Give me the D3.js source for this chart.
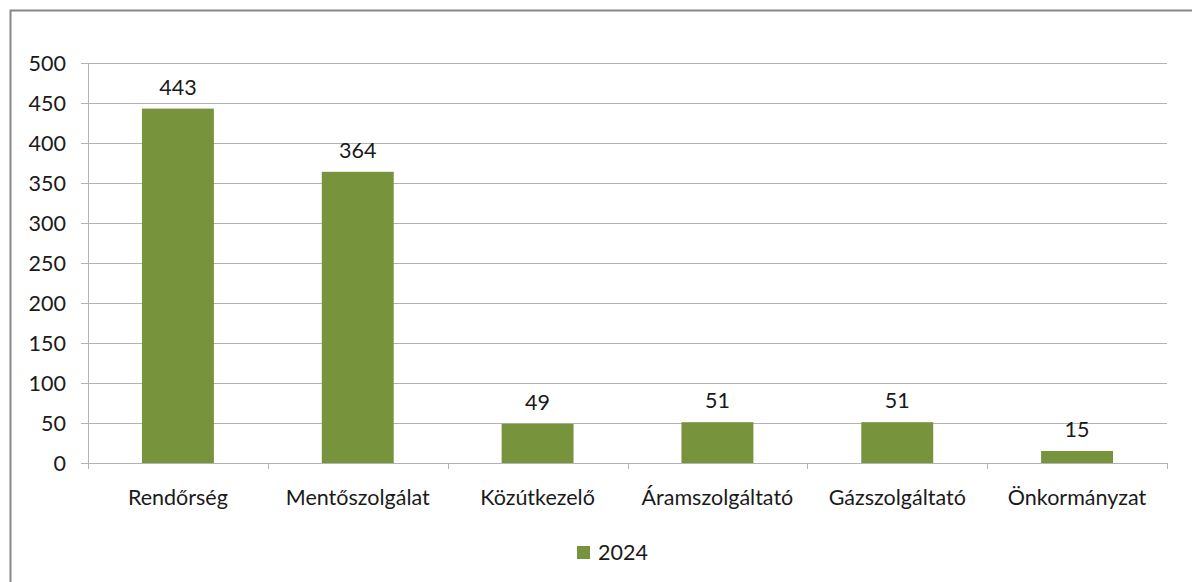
<!DOCTYPE html>
<html>
<head>
<meta charset="utf-8">
<script src="https://cdn.jsdelivr.net/npm/d3@7"></script>
<style>
  html, body { margin: 0; padding: 0; background: #fff; }
  svg { display: block; font-family: Lato, "Open Sans", sans-serif; }
</style>
</head>
<body>
<svg id="chart"></svg>
<script>
const categories = ["Rendőrség", "Mentőszolgálat", "Közútkezelő", "Áramszolgáltató", "Gázszolgáltató", "Önkormányzat"];
const values2024 = [443, 364, 49, 51, 51, 15];
const yTicks = [0, 50, 100, 150, 200, 250, 300, 350, 400, 450, 500];
const seriesName = "2024";

const width = 1192;
const height = 582;
const margin = { top: 63, right: 25, bottom: 119, left: 88 };
const barColor = "#77933c";
const fontSize = 21.5;

const svg = d3.select("#chart").attr("width", width).attr("height", height);

// outer frame (runs off right and bottom edges)
svg.append("rect")
    .attr("x", 10.5).attr("y", 10.5)
    .attr("width", width + 20).attr("height", height + 20)
    .attr("fill", "none").attr("stroke", "#878787").attr("stroke-width", 2);

const x = d3.scaleBand()
    .domain(categories)
    .range([margin.left, width - margin.right])
    .paddingInner(0).paddingOuter(0);

const y = d3.scaleLinear()
    .domain([0, 500])
    .range([height - margin.bottom, margin.top]);

// gridlines + y ticks
svg.append("g")
    .selectAll("line")
    .data(yTicks)
    .join("line")
    .attr("x1", margin.left - 7)
    .attr("x2", width - margin.right)
    .attr("y1", (d) => Math.round(y(d)) + 0.5)
    .attr("y2", (d) => Math.round(y(d)) + 0.5)
    .attr("stroke", "#b3b3b3")
    .attr("stroke-width", 1);

svg.append("g")
    .selectAll("text")
    .data(yTicks)
    .join("text")
    .attr("x", margin.left - 22)
    .attr("y", (d) => y(d))
    .attr("dy", "0.35em")
    .attr("text-anchor", "end")
    .attr("font-size", fontSize)
    .attr("fill", "#1a1a1a")
    .text((d) => d);

// y axis line
svg.append("line")
    .attr("x1", margin.left + 0.5).attr("x2", margin.left + 0.5)
    .attr("y1", margin.top).attr("y2", height - margin.bottom + 6)
    .attr("stroke", "#b3b3b3");

// category separator ticks
const sepX = categories.map((c) => x(c)).concat([width - margin.right]);
svg.append("g")
    .selectAll("line")
    .data(sepX)
    .join("line")
    .attr("x1", (d) => Math.round(d) + 0.5)
    .attr("x2", (d) => Math.round(d) + 0.5)
    .attr("y1", height - margin.bottom)
    .attr("y2", height - margin.bottom + 6)
    .attr("stroke", "#b3b3b3");

// bars
const barW = x.bandwidth() * 0.4;
svg.append("g")
    .selectAll("rect")
    .data(values2024)
    .join("rect")
    .attr("x", (d, i) => x(categories[i]) + (x.bandwidth() - barW) / 2)
    .attr("y", (d) => y(d))
    .attr("width", barW)
    .attr("height", (d) => y(0) - y(d))
    .attr("fill", barColor);

// value labels
svg.append("g")
    .selectAll("text")
    .data(values2024)
    .join("text")
    .attr("x", (d, i) => x(categories[i]) + x.bandwidth() / 2)
    .attr("y", (d) => y(d) - 14)
    .attr("text-anchor", "middle")
    .attr("font-size", fontSize)
    .attr("fill", "#1a1a1a")
    .text((d) => d);

// category labels
svg.append("g")
    .selectAll("text")
    .data(categories)
    .join("text")
    .attr("x", (d) => x(d) + x.bandwidth() / 2)
    .attr("y", height - margin.bottom + 42)
    .attr("text-anchor", "middle")
    .attr("font-size", fontSize)
    .attr("fill", "#1a1a1a")
    .text((d) => d);

// legend
const legend = svg.append("g").attr("transform", "translate(577, 546)");
legend.append("rect").attr("width", 13).attr("height", 13).attr("fill", barColor);
legend.append("text")
    .attr("x", 21).attr("y", 6.5).attr("dy", "0.35em")
    .attr("font-size", fontSize).attr("fill", "#1a1a1a")
    .text(seriesName);
</script>
</body>
</html>
